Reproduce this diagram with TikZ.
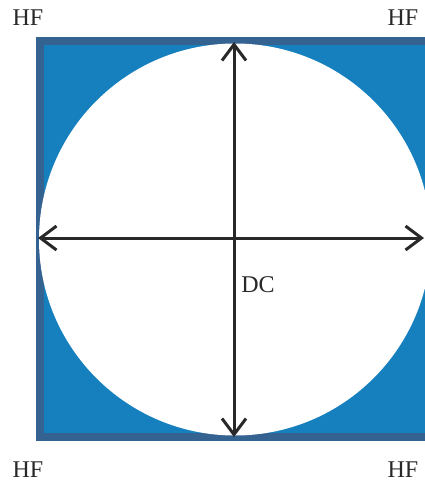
\documentclass[tikz,border=0pt]{standalone}
\usepackage{fontspec}
\setmainfont{Liberation Serif}
\usetikzlibrary{arrows.meta,positioning,calc}
\definecolor{edgeblue}{RGB}{52,98,145}
\definecolor{fillblue}{RGB}{22,128,191}
\definecolor{inkgray}{RGB}{40,40,40}

\begin{document}
\begin{tikzpicture}[x=1pt,y=-1pt,>={Straight Barb[length=16pt,width=24pt]}, every node/.style={font=\fontsize{24}{26}\selectfont,text=inkgray,inner sep=0pt}]
\useasboundingbox (0,0) rectangle (425,485);
\begin{scope}\clip (0,0) rectangle (425,485);
\draw[edgeblue,line width=8pt,fill=fillblue] (40,41) rectangle (440,437);\end{scope}
\fill[white] (235,239.5) circle(196pt);
\coordinate (N) at (234,42);\coordinate (S) at (234,437);
\coordinate (W) at (38,238);\coordinate (E) at (424,238);
\draw[<->,inkgray,line width=3pt] (W)--(E);\draw[<->,inkgray,line width=3pt] (N)--(S);
\foreach \n/\x/\y in {tl/28/18,tr/403/18,bl/28/470,br/403/470}{\node (hf\n) at (\x,\y){HF};}
\node (dc) at (258,285){DC};
\end{tikzpicture}
\end{document}
